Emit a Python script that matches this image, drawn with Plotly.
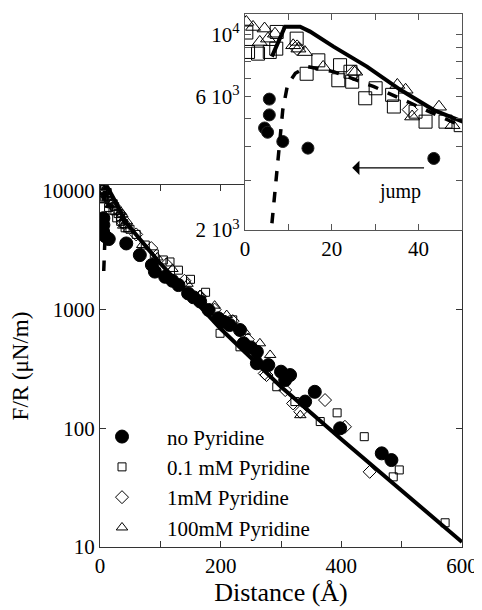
import plotly.graph_objects as go
import numpy as np

FONT = "Liberation Serif, Times New Roman, DejaVu Serif, serif"

# ---------------- data ----------------
# no Pyridine (filled circles)
d_none = [4.5, 5.2, 5.6, 5.6, 8.7, 14.5, 43.5, 66, 86, 91, 108, 120, 130, 146, 155, 166, 180,
          196, 205, 215, 232, 238, 250, 260, 260, 279, 300, 307, 315, 340, 356, 398, 467, 483]
f_none = [4640, 4480, 5890, 5170, 4150, 3930, 3610, 2880, 2377, 2090, 1890, 1750, 1610, 1370,
          1270, 1170, 993, 845, 790, 742, 673, 520, 480, 441, 353, 341, 300, 255, 281, 168, 203,
          100, 61.5, 54]

# 0.1 mM Pyridine (open squares)
d_01 = [0.3, 0.7, 3, 5.7, 7.2, 7.3, 11.9, 14.2, 16.9, 21.5, 21.9, 24.3, 24.7, 27.7, 30.1, 33.9,
        34.3, 39.3, 41.6, 46.2, 49.7, 60, 75, 90, 105, 116, 130, 150, 175, 199, 220, 232, 260,
        293, 323, 365, 393, 438, 486, 496, 572]
f_01 = [10200, 8690, 8570, 8690, 8930, 10250, 9700, 7260, 8110, 6880, 7790, 7380, 6800, 5930,
        6440, 6100, 5540, 5310, 4890, 4890, 4750, 4300, 3500, 2950, 2620, 2520, 2150, 1800, 1400,
        632, 820, 486, 420, 224, 168, 114, 135, 85, 39, 44.6, 16]

# 1 mM Pyridine (open diamonds)
d_1 = [12, 25, 38, 60, 85, 110, 140, 166, 190, 220, 245, 273, 276, 307, 320, 332, 373, 406, 447]
f_1 = [9000, 7300, 5400, 4300, 3300, 2400, 1750, 1290, 1000, 800, 560, 290, 281, 210, 162, 138,
       173, 103, 43]

# 100 mM Pyridine (open triangles)
d_100 = [0.3, 1.85, 3.4, 4.5, 5.3, 6.9, 11.1, 12.3, 13.8, 18, 25.4, 35.1, 37, 38.5, 44.7, 47.8,
         70, 95, 120, 145, 166, 190, 210, 240, 265, 282, 332]
f_100 = [11130, 10680, 9440, 10540, 9700, 10100, 9180, 8930, 8680, 7680, 7380, 6620, 6360, 5100,
         5530, 4750, 3500, 2750, 2200, 1650, 1320, 1080, 900, 650, 520, 415, 129]

# theory curves
d_solid = [6.2, 9.2, 12.7, 15, 20.4, 28.1, 35.8, 43.5, 50.2, 100, 200, 300, 400, 500, 600]
f_solid = [8360, 10700, 10700, 10280, 9080, 7700, 6360, 5380, 4890, 2450, 690, 224, 81, 30, 11]

d_dash = [6.2, 7.7, 8.7, 9.8, 11.6, 14.3, 20.4, 29.7, 39.7, 50.2]
f_dash = [2115, 3660, 5390, 6620, 7290, 7710, 7390, 6530, 5535, 4690]

names = ["no Pyridine", "0.1 mM Pyridine", "1mM Pyridine", "100mM Pyridine"]
xtick_main = [0, 100, 200, 300, 400, 500, 600]
xtext_main = ["0", "", "200", "", "400", "", "600"]
ytick_main = [10, 100, 1000, 10000]
ytext_main = ["10", "100", "1000", "10000"]
xtick_ins = [0, 10, 20, 30, 40, 50]
xtext_ins = ["0", "", "20", "", "40", ""]
ytick_ins = [2000, 3000, 4000, 5000, 6000, 7000, 8000, 9000, 10000]
ytext_ins = ["2 10<sup>3</sup>", "", "", "", "6 10<sup>3</sup>", "", "", "", "10<sup>4</sup>"]

series = [
    (d_none, f_none, "circle", 13, 12),
    (d_01, f_01, "square-open", 8, 13),
    (d_1, f_1, "diamond-open", 10, 12),
    (d_100, f_100, "triangle-up-open", 10, 13),
]

fig = go.Figure()

# main plot
fig.add_trace(go.Scatter(x=d_solid, y=f_solid, mode="lines", line=dict(color="black", width=4),
                         showlegend=False, xaxis="x", yaxis="y"))
fig.add_trace(go.Scatter(x=d_dash, y=f_dash, mode="lines", line=dict(color="black", width=3.5, dash="dash"),
                         showlegend=False, xaxis="x", yaxis="y"))
for (dx, fy, sym, smain, sins), nm in zip(series, names):
    fig.add_trace(go.Scatter(x=dx, y=fy, mode="markers", name=nm,
                             marker=dict(symbol=sym, size=smain, color="black",
                                         line=dict(color="black", width=1)),
                             xaxis="x", yaxis="y", legendgroup=nm))

# inset
for (dx, fy, sym, smain, sins), nm in zip(series, names):
    fig.add_trace(go.Scatter(x=dx, y=fy, mode="markers", name=nm, showlegend=False,
                             marker=dict(symbol=sym, size=sins, color="black",
                                         line=dict(color="#222", width=1)),
                             xaxis="x2", yaxis="y2"))
fig.add_trace(go.Scatter(x=d_solid, y=f_solid, mode="lines", line=dict(color="black", width=4),
                         showlegend=False, xaxis="x2", yaxis="y2"))
fig.add_trace(go.Scatter(x=d_dash, y=f_dash, mode="lines", line=dict(color="black", width=3.5, dash="dash"),
                         showlegend=False, xaxis="x2", yaxis="y2"))

axfont = dict(family=FONT, size=21, color="black")
common = dict(ticks="inside", ticklen=6, showline=True, linewidth=1.2, mirror="ticks",
              showgrid=False, zeroline=False, tickfont=axfont, automargin=False)

# page body adds an 8px offset, so the figure is sized 8px smaller and shifted
fig.update_layout(
    width=474, height=602, autosize=False,
    margin=dict(l=92, r=20, t=6, b=63, autoexpand=False),
    paper_bgcolor="white", plot_bgcolor="white",
    font=dict(family=FONT, size=21, color="black"),
    xaxis=dict(domain=[0, 1], range=[0, 600], anchor="y", tickvals=xtick_main, ticktext=xtext_main,
               tickcolor="#333", linecolor="#333",
               title=dict(text="Distance (Å)", font=dict(family=FONT, size=26), standoff=4), **common),
    yaxis=dict(domain=[0, 0.6792], type="log", range=[1, 4.05], anchor="x", tickvals=ytick_main,
               ticktext=ytext_main, tickcolor="#333", linecolor="#333",
               title=dict(text="F/R (μN/m)", font=dict(family=FONT, size=23), standoff=8), **common),
    xaxis2=dict(domain=[0.4006, 1], range=[0, 50], anchor="y2", tickvals=xtick_ins, ticktext=xtext_ins,
                tickcolor="#555", linecolor="#555", **common),
    yaxis2=dict(domain=[0.5947, 1], type="log", range=[np.log10(2000), 4.075], anchor="x2",
                tickvals=ytick_ins, ticktext=ytext_ins, tickcolor="#555", linecolor="#555", **common),
    legend=dict(x=-0.0635, xanchor="left", y=0.245, yanchor="top", bgcolor="rgba(0,0,0,0)",
                itemwidth=80, font=dict(family=FONT, size=21), tracegroupgap=0),
    annotations=[
        dict(x=24.7, y=np.log10(3340), ax=41.6, ay=np.log10(3340), xref="x2", yref="y2",
             axref="x2", ayref="y2", showarrow=True, arrowhead=1, arrowsize=2, arrowwidth=1.2,
             arrowcolor="black", text=""),
        dict(x=35.8, y=np.log10(2740), xref="x2", yref="y2", text="jump", showarrow=False,
             font=dict(family=FONT, size=20)),
    ],
)

fig.write_html("out.html")
